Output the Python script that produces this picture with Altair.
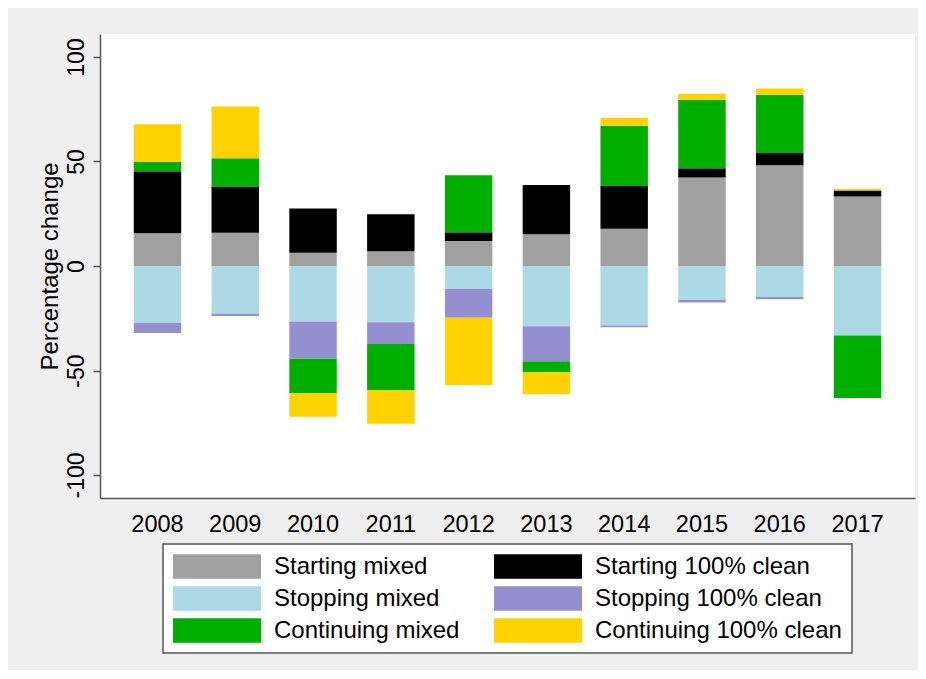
import altair as alt
import pandas as pd

years = ["2008", "2009", "2010", "2011", "2012", "2013", "2014", "2015", "2016", "2017"]

# legend order (two columns, filled column by column)
categories = ["Starting mixed", "Stopping mixed", "Continuing mixed",
              "Starting 100% clean", "Stopping 100% clean", "Continuing 100% clean"]
colors = ["#A0A0A0", "#ADD8E6", "#00AE00", "#000000", "#9490D0", "#FFD200"]
# stacking order away from zero
stack_order = [0, 2, 4, 1, 3, 5]

starting_mixed = [15.7, 15.9, 6.3, 7.0, 12.0, 15.2, 17.8, 42.3, 48.2, 33.2]
stopping_mixed = [-27.1, -22.9, -26.6, -26.9, -11.0, -28.8, -28.5, -16.2, -14.8, -33.3]
continuing_mixed = [4.7, 13.7, -16.7, -22.0, 27.4, -5.1, 28.8, 32.8, 27.8, -29.9]
starting_clean = [29.5, 22.0, 21.2, 17.8, 4.0, 23.5, 20.5, 4.3, 5.9, 2.9]
stopping_clean = [-4.9, -1.0, -17.6, -10.4, -13.7, -16.8, -0.8, -1.3, -1.1, 0.0]
continuing_clean = [17.9, 24.7, -11.2, -16.2, -32.2, -10.7, 3.8, 3.0, 3.0, 0.9]

series = [starting_mixed, stopping_mixed, continuing_mixed,
          starting_clean, stopping_clean, continuing_clean]

rows = []
for cat, k, vals in zip(categories, stack_order, series):
    for yr, v in zip(years, vals):
        if v != 0:
            rows.append({"year": yr, "category": cat, "value": v, "ord": k})
df = pd.DataFrame(rows)

FONT = "Arial, Liberation Sans"
SYMBOL = "M-1,-0.28L1,-0.28L1,0.28L-1,0.28Z"

chart = alt.Chart(df).mark_bar().encode(
    x=alt.X("year:N", title=None,
            scale=alt.Scale(paddingInner=0.39, paddingOuter=0.434),
            axis=alt.Axis(labelAngle=0, ticks=False, tickSize=0, labelPadding=14,
                          labelFontSize=23.5, labelColor="#000000", labelFont=FONT,
                          domainColor="#555555", domainWidth=1.5)),
    y=alt.Y("value:Q", stack="zero", title="Percentage change",
            scale=alt.Scale(domain=[-111, 111], nice=False, zero=False),
            axis=alt.Axis(values=[-100, -50, 0, 50, 100], grid=False,
                          labelExpr="'' + datum.value",
                          labelAngle=270, labelAlign="center", labelBaseline="alphabetic",
                          labelPadding=10, tickSize=7, tickColor="#555555", tickWidth=1.5,
                          labelFontSize=23, labelColor="#000000", labelFont=FONT,
                          titleFontSize=24, titleFontWeight="normal", titleColor="#000000",
                          titleFont=FONT, titleX=-43, titleY=232, titleAlign="center",
                          titleBaseline="alphabetic", titleAngle=270,
                          domainColor="#555555", domainWidth=1.5)),
    color=alt.Color("category:N",
                    scale=alt.Scale(domain=categories, range=colors),
                    legend=alt.Legend(title=None, orient="none", legendX=63, legendY=510,
                                      columns=2, columnPadding=34, rowPadding=7,
                                      symbolType=SYMBOL, symbolSize=7744,
                                      symbolStrokeWidth=0, symbolOpacity=1,
                                      clipHeight=25,
                                      labelFontSize=24, labelFont=FONT, labelColor="#000000",
                                      labelOffset=13, labelLimit=400,
                                      padding=10, fillColor="#FFFFFF",
                                      strokeColor="#555555")),
    order=alt.Order("ord:Q"),
).properties(
    width=815, height=464,
    autosize=alt.AutoSizeParams(type="none"),
    padding={"left": 92, "top": 26, "right": 3, "bottom": 172},
    background="#EFEFEF",
).configure_view(fill="#FFFFFF", stroke=None).configure_legend(strokeWidth=1.5)

chart.save("out.html", embed_options={"renderer": "svg", "actions": False})
